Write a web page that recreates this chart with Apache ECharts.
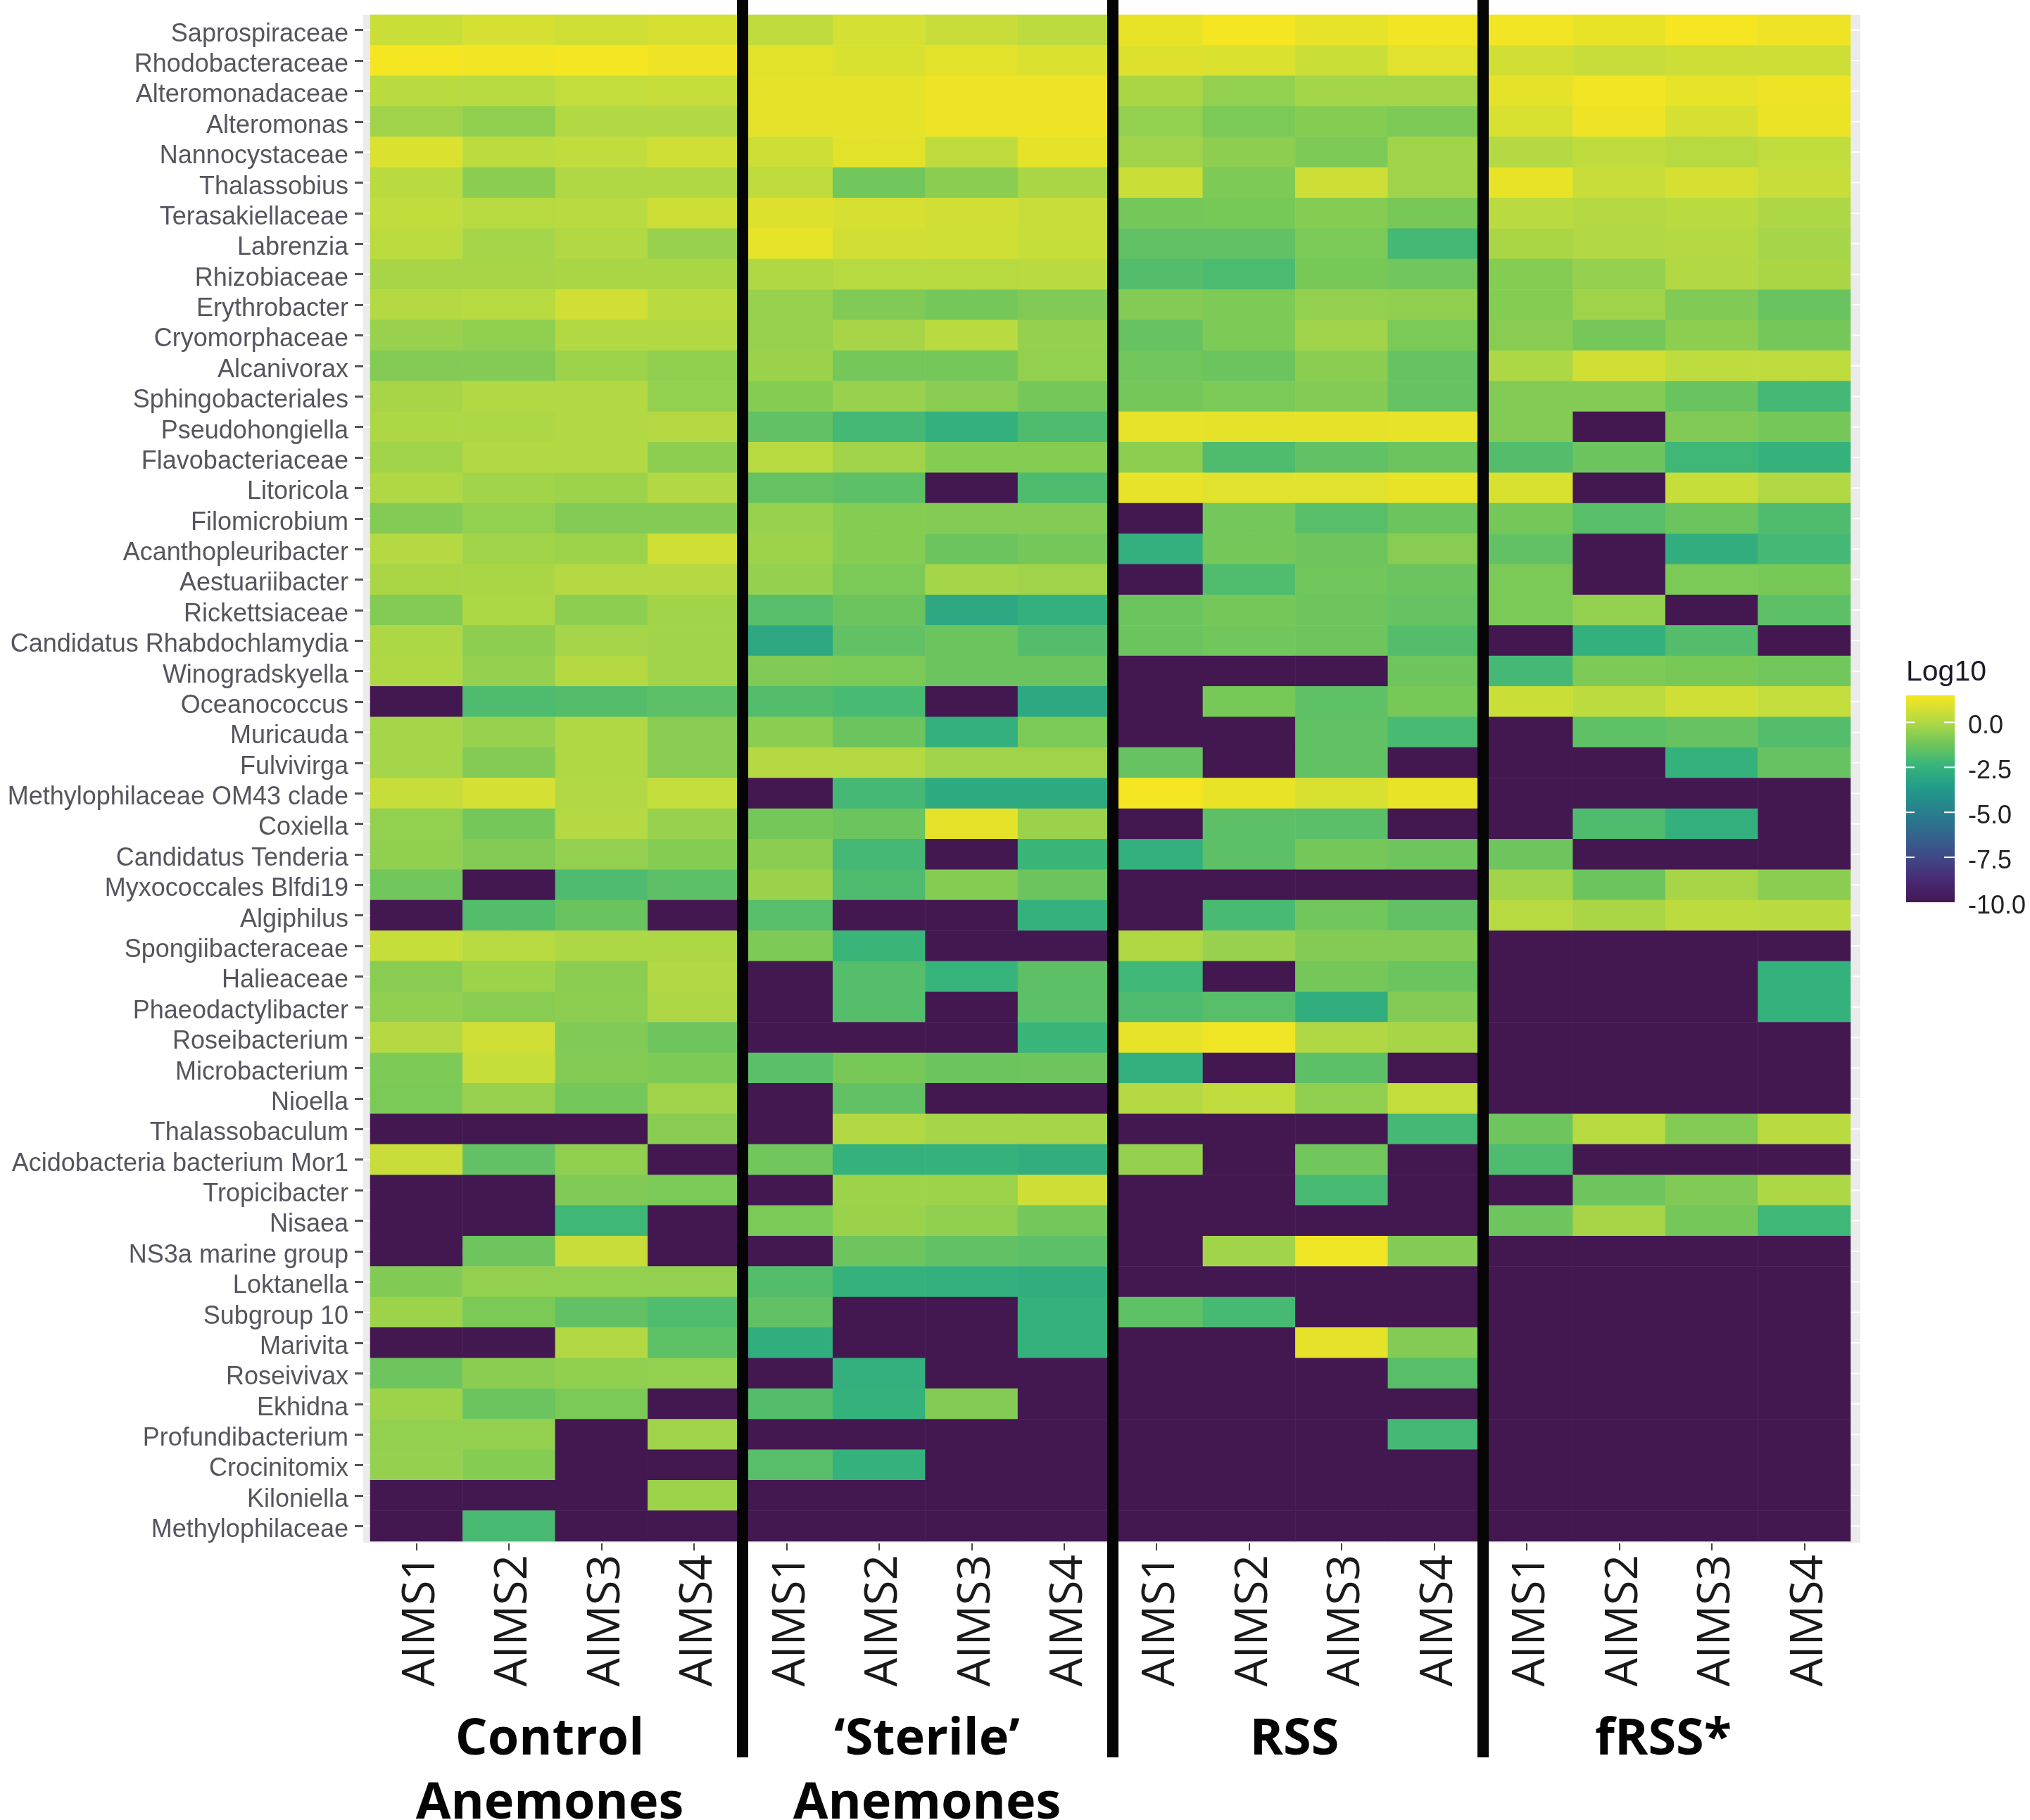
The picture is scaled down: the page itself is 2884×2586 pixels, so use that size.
<!DOCTYPE html>
<html><head><meta charset="utf-8">
<style>html,body{margin:0;padding:0;background:#fff}#c{width:2884px;height:2586px}</style>
<script src="https://cdn.jsdelivr.net/npm/echarts@6/dist/echarts.min.js"></script>
</head><body><div id="c"></div>
<script>
const N = -10;
const taxa = ["Saprospiraceae","Rhodobacteraceae","Alteromonadaceae","Alteromonas","Nannocystaceae","Thalassobius","Terasakiellaceae","Labrenzia","Rhizobiaceae","Erythrobacter","Cryomorphaceae","Alcanivorax","Sphingobacteriales","Pseudohongiella","Flavobacteriaceae","Litoricola","Filomicrobium","Acanthopleuribacter","Aestuariibacter","Rickettsiaceae","Candidatus Rhabdochlamydia","Winogradskyella","Oceanococcus","Muricauda","Fulvivirga","Methylophilaceae OM43 clade","Coxiella","Candidatus Tenderia","Myxococcales Blfdi19","Algiphilus","Spongiibacteraceae","Halieaceae","Phaeodactylibacter","Roseibacterium","Microbacterium","Nioella","Thalassobaculum","Acidobacteria bacterium Mor1","Tropicibacter","Nisaea","NS3a marine group","Loktanella","Subgroup 10","Marivita","Roseivivax","Ekhidna","Profundibacterium","Crocinitomix","Kiloniella","Methylophilaceae"];
const samples = ["AIMS1","AIMS2","AIMS3","AIMS4"];
const groupTop = ["Control","‘Sterile’","RSS","fRSS*"];
const groupBottom = ["Anemones","Anemones","",""];
const legendTicks = ["0.0","-2.5","-5.0","-7.5","-10.0"];
const legendValues = [0,-2.5,-5,-7.5,-10];
const control = [[.55,.8,.65,.8],[1.45,1.4,1.45,1.3],[.2,.15,.4,.45],[-.3,-.6,.05,.05],[.9,.25,.35,.65],[.2,-.7,0,0],[.35,.15,.2,.6],[.25,-.2,.05,-.45],[-.15,-.15,-.1,-.1],[.1,.15,.7,.2],[-.45,-.6,.05,.05],[-.85,-.85,-.35,-.6],[-.15,.05,.05,-.55],[-.05,-.05,.05,.1],[-.25,.05,.05,-.65],[0,-.25,-.35,.05],[-.85,-.55,-.85,-.85],[.1,-.25,-.35,.65],[-.1,-.1,.1,.1],[-.85,-.05,-.65,-.25],[-.05,-.65,-.2,-.25],[0,-.5,.1,-.25],[N,-1.9,-1.8,-1.6],[-.2,-.45,0,-.75],[-.2,-.85,0,-.75],[.45,.75,.05,.4],[-.55,-1.1,.1,-.45],[-.6,-.85,-.55,-.8],[-1.2,N,-1.9,-1.6],[N,-1.8,-1.35,N],[.45,.15,-.05,-.05],[-.75,-.35,-.7,.05],[-.6,-.75,-.65,-.05],[.1,.65,-.9,-1.25],[-.95,.45,-.85,-.95],[-1,-.45,-1.15,-.3],[N,N,N,-.75],[.5,-1.5,-.6,N],[N,N,-.9,-1],[N,N,-2.2,N],[N,-1.25,.5,N],[-.9,-.55,-.55,-.55],[-.35,-1,-1.5,-1.85],[N,N,.05,-1.55],[-1.25,-.7,-.6,-.55],[-.35,-1.3,-1,N],[-.55,-.55,N,-.3],[-.5,-.8,N,N],[N,N,N,-.35],[N,-2,N,N]];
const sterile = [[.3,.75,.5,.25],[1.05,.85,1.05,.9],[1.1,1.1,1.3,1.3],[1.1,1.1,1.3,1.3],[.6,1.05,.3,1.1],[.3,-1.2,-.7,-.1],[.95,.8,.7,.5],[1.15,.7,.65,.45],[0,.15,.15,.2],[-.45,-.9,-1.1,-.9],[-.45,-.15,.2,-.5],[-.4,-1.1,-1.1,-.55],[-.8,-.45,-.75,-1.1],[-1.5,-2.1,-2.6,-1.9],[.15,-.3,-.8,-.8],[-1.45,-1.6,N,-1.9],[-.45,-.8,-.85,-.85],[-.35,-.8,-1.3,-1.1],[-.5,-1,-.2,-.3],[-1.7,-1.3,-3,-2.6],[-3,-1.5,-1.3,-1.8],[-.9,-1,-1.3,-1.3],[-1.8,-2,N,-3],[-.7,-1.3,-2.6,-1],[.1,.1,-.3,-.3],[N,-2.1,-2.9,-2.9],[-1.1,-1.3,1.1,-.4],[-.7,-2.1,N,-2.3],[-.4,-1.9,-.8,-1.3],[-1.7,N,N,-2.5],[-.95,-2.3,N,N],[N,-1.75,-2.4,-1.6],[N,-1.75,N,-1.6],[N,N,N,-2.3],[-1.65,-1.05,-1.3,-1.25],[N,-1.5,N,N],[N,.05,-.2,-.2],[-1.2,-2.5,-2.5,-2.7],[N,-.35,-.35,.6],[-1,-.4,-.6,-1.15],[N,-1.25,-1.5,-1.6],[-1.8,-2.5,-2.6,-2.7],[-1.5,N,N,-2.5],[-2.7,N,N,-2.5],[N,-2.6,N,N],[-1.8,-2.5,-.85,N],[N,N,N,N],[-1.7,-2.5,N,N],[N,N,N,N],[N,N,N,N]];
const rss = [[1.2,1.45,1.15,1.4],[.95,.9,.55,1],[-.1,-.55,-.2,-.2],[-.55,-1,-.8,-.95],[-.3,-.65,-.95,-.25],[.55,-.95,.6,-.3],[-1.1,-1.05,-.8,-1.05],[-1.5,-1.5,-1,-2.1],[-1.8,-1.95,-1.05,-1.2],[-.85,-.95,-.55,-.6],[-1.4,-.95,-.3,-1],[-1.2,-1.3,-.7,-1.4],[-1.1,-1,-.85,-1.4],[1.15,1.1,1.1,1.15],[-.65,-1.9,-1.5,-1.3],[1.15,1,1,1.2],[N,-1.15,-1.7,-1.3],[-2.6,-1.1,-1.25,-.75],[N,-1.85,-1.2,-1.3],[-1.3,-1.1,-1.25,-1.4],[-1.3,-1.2,-1.25,-1.8],[N,N,N,-1.25],[N,-1.05,-1.55,-1.05],[N,N,-1.5,-2],[-1.4,N,-1.5,N],[1.45,1.2,.85,1.2],[N,-1.6,-1.65,N],[-2.6,-1.6,-1.1,-1.25],[N,N,N,N],[N,-2,-1.2,-1.5],[0,-.45,-.85,-.85],[-2.2,N,-1.1,-1.3],[-1.9,-1.7,-2.7,-.85],[1.15,1.35,0,-.15],[-2.6,N,-1.6,N],[.1,.35,-.6,.4],[N,N,N,-2.1],[-.5,N,-1.2,N],[N,N,-2,N],[N,N,N,N],[N,-.25,1.35,-.85],[N,N,N,N],[-1.55,-2.05,N,N],[N,N,1.1,-.85],[N,N,N,-1.7],[N,N,N,N],[N,N,N,-2.1],[N,N,N,N],[N,N,N,N],[N,N,N,N]];
const frss = [[1.4,1.2,1.45,1.3],[.7,.5,.6,.6],[1.1,1.4,1.15,1.3],[.85,1.3,.8,1.25],[.1,.3,.15,.35],[1.2,.5,.8,.5],[.2,.1,.2,-.05],[-.1,.05,.1,-.2],[-.8,-.5,.05,-.1],[-.8,-.3,-.9,-1.35],[-.75,-1.1,-.65,-1.1],[-.05,.7,.3,.3],[-.85,-.85,-1.35,-2.1],[-.85,N,-.9,-1.1],[-1.8,-1.3,-2.2,-2.5],[.85,N,.45,.05],[-1.1,-1.7,-1.3,-1.9],[-1.5,N,-2.7,-2.1],[-1,N,-1,-1.05],[-1,-.55,N,-1.6],[N,-2.6,-1.8,N],[-2.1,-.95,-1.05,-1.2],[.55,.25,.65,.4],[N,-1.55,-1.4,-1.8],[N,N,-2.5,-1.4],[N,N,N,N],[N,-1.9,-2.6,N],[-1.25,N,N,N],[-.25,-1.3,-.15,-.7],[.15,-.1,.25,.2],[N,N,N,N],[N,N,N,-2.5],[N,N,N,-2.5],[N,N,N,N],[N,N,N,N],[N,N,N,N],[-1.25,.15,-.85,.2],[-1.9,N,N,N],[N,-1.25,-.9,-.05],[-1.25,-.15,-1.1,-2.2],[N,N,N,N],[N,N,N,N],[N,N,N,N],[N,N,N,N],[N,N,N,N],[N,N,N,N],[N,N,N,N],[N,N,N,N],[N,N,N,N],[N,N,N,N]];

const panels = [control, sterile, rss, frss];
const columns = panels.flatMap(() => samples);
const cells = [];
panels.forEach((panel, p) => panel.forEach((row, r) => row.forEach((v, s) => cells.push([p * 4 + s, r, v]))));

const G = {left: 526, top: 21, width: 2103, height: 2169};
const VM = {left: 2708, top: 988, w: 69, h: 294, min: -10, max: 1.5};
const ramp = ['#431851','#482a75','#3f4a87','#32678d','#27818d','#229c89','#38b57a','#78c858','#bbdb40','#f7e620'];
const chart = echarts.init(document.getElementById('c'), null, {renderer: 'canvas'});
chart.setOption({
  animation: false,
  backgroundColor: '#ffffff',
  grid: {left: G.left, top: G.top, width: G.width, height: G.height, containLabel: false, outerBoundsMode: 'none'},
  xAxis: {type: 'category', data: columns, offset: 3,
    axisLine: {show: false}, splitLine: {show: false},
    axisTick: {show: true, alignWithLabel: true, length: 10, lineStyle: {color: '#444', width: 2}},
    axisLabel: {interval: 0, rotate: 90, margin: 16, verticalAlign: 'top', lineHeight: 14, fontFamily: 'Open Sans', fontSize: 64, color: '#1a1a1a'}},
  yAxis: {type: 'category', data: taxa, inverse: true, offset: 10,
    axisLine: {show: false}, splitLine: {show: false},
    axisTick: {show: true, alignWithLabel: true, length: 12, lineStyle: {color: '#555', width: 3}},
    axisLabel: {interval: 0, margin: 21, verticalAlign: 'top', lineHeight: 12, fontFamily: 'Liberation Sans', fontSize: 36, color: '#55555f'}},
  visualMap: {type: 'continuous', min: VM.min, max: VM.max, dimension: 2, calculable: false, show: false,
    inRange: {color: ramp}},
  series: [{type: 'heatmap', data: cells, emphasis: {disabled: true}, itemStyle: {borderWidth: 0}, progressive: 0}]
});

function draw() {
  const g = [];
  const colX = i => chart.convertToPixel({xAxisIndex: 0}, i);
  const rowY = i => chart.convertToPixel({yAxisIndex: 0}, i);
  g.push({type: 'rect', z: -1, shape: {x: 516, y: G.top, width: 2643 - 516, height: 2192 - G.top}, style: {fill: '#ebebeb'}});
  taxa.forEach((t, i) => g.push({type: 'rect', z: -1, shape: {x: 516, y: rowY(i) - 1, width: 2643 - 516, height: 2}, style: {fill: '#fff'}}));
  columns.forEach((c, i) => g.push({type: 'rect', z: -1, shape: {x: colX(i) - 1, y: G.top, width: 2, height: 2192 - G.top}, style: {fill: '#fff'}}));
  [1055, 1581, 2107].forEach(x => g.push({type: 'rect', z: 100, shape: {x: x - 8, y: 0, width: 16, height: 2497}, style: {fill: '#050505'}}));
  const cx = [781, 1317, 1839, 2363];
  const cap = {fontFamily: 'Open Sans', fontWeight: 'bold', fontSize: 72, fill: '#050505', align: 'center', verticalAlign: 'middle'};
  groupTop.forEach((t, i) => g.push({type: 'text', z: 100, x: cx[i], y: 2472, style: Object.assign({text: t}, cap)}));
  groupBottom.forEach((t, i) => t && g.push({type: 'text', z: 100, x: cx[i], y: 2563, style: Object.assign({text: t}, cap)}));
  // colour key: same ramp as the visualMap, bottom to top
  g.push({type: 'rect', z: 90, shape: {x: VM.left, y: VM.top, width: VM.w, height: VM.h},
    style: {fill: new echarts.graphic.LinearGradient(0, 1, 0, 0, ramp.map((c, i) => ({offset: i / (ramp.length - 1), color: c})))}});
  g.push({type: 'text', z: 100, x: VM.left, y: 956, style: {text: 'Log10', fontFamily: 'Liberation Sans', fontSize: 41, fill: '#1a1a2a', align: 'left', verticalAlign: 'middle'}});
  legendValues.forEach((v, i) => {
    const y = VM.top + (VM.max - v) / (VM.max - VM.min) * VM.h;
    if (v > VM.min) {
      g.push({type: 'rect', z: 100, shape: {x: VM.left, y: y - 1, width: 12, height: 2}, style: {fill: '#fff'}});
      g.push({type: 'rect', z: 100, shape: {x: VM.left + VM.w - 15, y: y - 1, width: 15, height: 2}, style: {fill: '#fff'}});
    }
    g.push({type: 'text', z: 100, x: 2796, y: y + 6, style: {text: legendTicks[i], fontFamily: 'Liberation Sans', fontSize: 36, fill: '#222', align: 'left', verticalAlign: 'middle'}});
  });
  chart.setOption({graphic: {elements: g}});
}
draw();
</script></body></html>
